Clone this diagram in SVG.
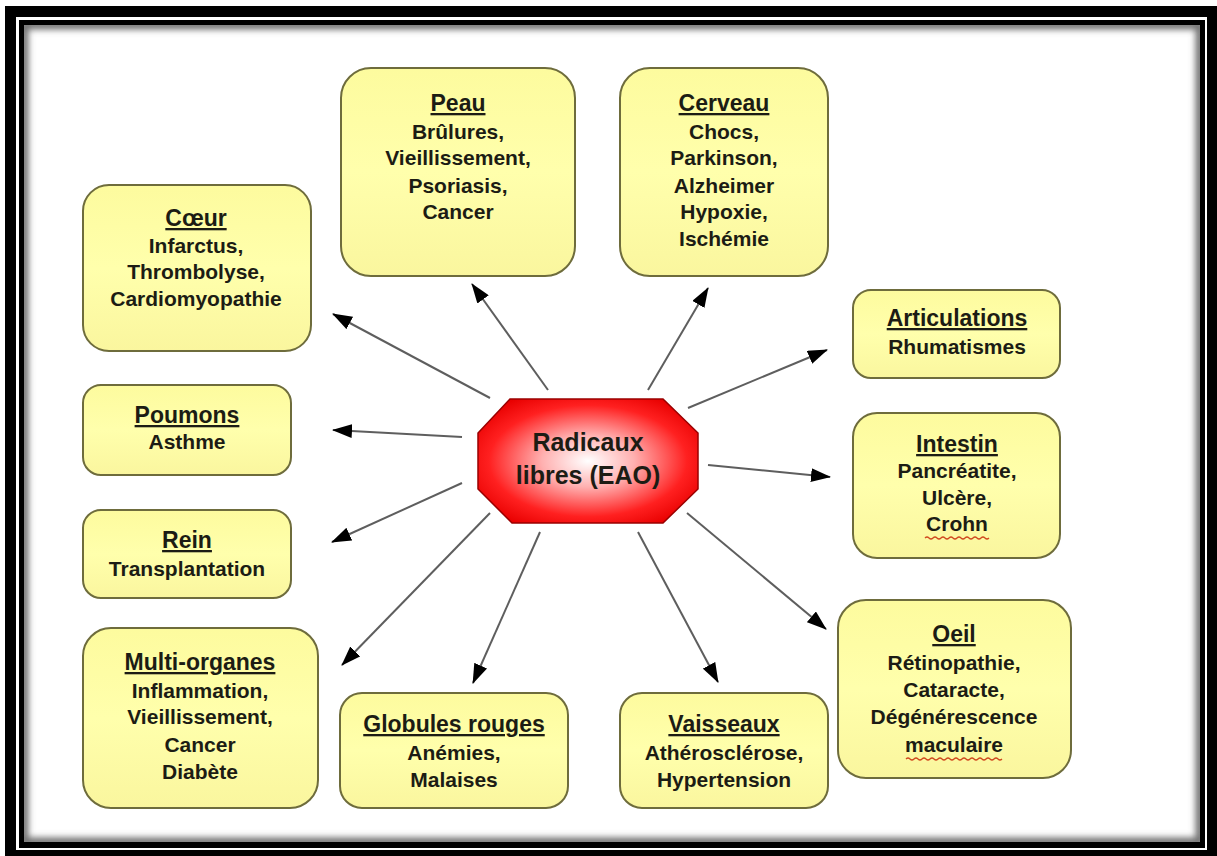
<svg xmlns="http://www.w3.org/2000/svg" width="1217" height="856" viewBox="0 0 1217 856">
<style>
.box{fill:url(#yg);stroke:#6e6c3c;stroke-width:2}
.t{font-family:"Liberation Sans",Arial,sans-serif;font-weight:bold;fill:#1c1c14;text-anchor:middle}
.h{font-size:23px;text-decoration:underline}
.b{font-size:21px}
.c{stroke:#5e5e5e;stroke-width:2;fill:none;marker-end:url(#ah)}
.sq{stroke:#d04a20;stroke-width:1.2;fill:none}
</style>
<defs>
<linearGradient id="yg" x1="0" y1="0" x2="0" y2="1">
<stop offset="0" stop-color="#fdfb9e"/>
<stop offset="0.5" stop-color="#ffffac"/>
<stop offset="1" stop-color="#faf69e"/>
</linearGradient>
<radialGradient id="rg" cx="0.5" cy="0.5" r="0.6">
<stop offset="0" stop-color="#ffffff"/>
<stop offset="0.35" stop-color="#ffb0b0"/>
<stop offset="0.75" stop-color="#ff2020"/>
<stop offset="1" stop-color="#e80000"/>
</radialGradient>
<marker id="ah" viewBox="0 0 20 14" refX="19" refY="7" markerWidth="20" markerHeight="14" markerUnits="userSpaceOnUse" orient="auto">
<path d="M0,0 L20,7 L0,14 z" fill="#000"/>
</marker>
<clipPath id="inner"><rect x="24" y="25" width="1176" height="817"/></clipPath>
<filter id="bl" x="-0.1" y="-0.1" width="1.2" height="1.2"><feGaussianBlur stdDeviation="3"/></filter>
</defs>

<g id="frame">
<rect x="0" y="0" width="1217" height="856" fill="#fff"/>
<rect x="5" y="6" width="1212" height="850" fill="#000"/>
<rect x="16" y="17" width="1191" height="833" fill="#fff"/>
<rect x="19" y="20" width="1186" height="828" fill="#000"/>
<rect x="24" y="25" width="1176" height="817" fill="#fff"/>
<g clip-path="url(#inner)"><rect x="24" y="25" width="1176" height="817" fill="none" stroke="#707070" stroke-width="9" filter="url(#bl)"/></g>
</g>

<g id="connectors">
<line class="c" x1="490" y1="398" x2="333" y2="314"/>
<line class="c" x1="548" y1="390" x2="472" y2="284"/>
<line class="c" x1="648" y1="390" x2="708" y2="288"/>
<line class="c" x1="688" y1="408" x2="827" y2="350"/>
<line class="c" x1="462" y1="437" x2="333" y2="430"/>
<line class="c" x1="708" y1="465" x2="830" y2="477"/>
<line class="c" x1="462" y1="483" x2="332" y2="542"/>
<line class="c" x1="490" y1="513" x2="342" y2="665"/>
<line class="c" x1="540" y1="532" x2="473" y2="683"/>
<line class="c" x1="638" y1="532" x2="718" y2="682"/>
<line class="c" x1="687" y1="513" x2="826" y2="629"/>
</g>

<g id="center">
<polygon points="510,399 663,399 698,433 698,489 663,523 512,523 478,489 478,433" fill="url(#rg)" stroke="#9a0000" stroke-width="1.5"/>
<text class="t" x="588" y="451" font-size="25" fill="#222">Radicaux</text>
<text class="t" x="588" y="484" font-size="25" fill="#222">libres (EAO)</text>
</g>

<g id="coeur">
<rect class="box" x="83" y="185" width="228" height="166" rx="26"/>
<text class="t h" x="196" y="226">Cœur</text>
<text class="t b" x="196" y="253">Infarctus,</text>
<text class="t b" x="196" y="279">Thrombolyse,</text>
<text class="t b" x="196" y="306">Cardiomyopathie</text>
</g>

<g id="peau">
<rect class="box" x="341" y="68" width="234" height="208" rx="30"/>
<text class="t h" x="458" y="111">Peau</text>
<text class="t b" x="458" y="139">Brûlures,</text>
<text class="t b" x="458" y="165">Vieillissement,</text>
<text class="t b" x="458" y="193">Psoriasis,</text>
<text class="t b" x="458" y="219">Cancer</text>
</g>

<g id="cerveau">
<rect class="box" x="620" y="68" width="208" height="208" rx="30"/>
<text class="t h" x="724" y="111">Cerveau</text>
<text class="t b" x="724" y="139">Chocs,</text>
<text class="t b" x="724" y="165">Parkinson,</text>
<text class="t b" x="724" y="193">Alzheimer</text>
<text class="t b" x="724" y="219">Hypoxie,</text>
<text class="t b" x="724" y="246">Ischémie</text>
</g>

<g id="articulations">
<rect class="box" x="853" y="290" width="207" height="88" rx="18"/>
<text class="t h" x="957" y="326">Articulations</text>
<text class="t b" x="957" y="354">Rhumatismes</text>
</g>

<g id="poumons">
<rect class="box" x="83" y="385" width="208" height="90" rx="18"/>
<text class="t h" x="187" y="423">Poumons</text>
<text class="t b" x="187" y="449">Asthme</text>
</g>

<g id="intestin">
<rect class="box" x="853" y="413" width="207" height="145" rx="24"/>
<text class="t h" x="957" y="452">Intestin</text>
<text class="t b" x="957" y="478">Pancréatite,</text>
<text class="t b" x="957" y="505">Ulcère,</text>
<text class="t b" x="957" y="531">Crohn</text>
<path class="sq" d="M925,538 q2,-2 4,0 t4,0 t4,0 t4,0 t4,0 t4,0 t4,0 t4,0 t4,0 t4,0 t4,0 t4,0 t4,0 t4,0 t4,0 t4,0"/>
</g>

<g id="rein">
<rect class="box" x="83" y="510" width="208" height="88" rx="18"/>
<text class="t h" x="187" y="548">Rein</text>
<text class="t b" x="187" y="576">Transplantation</text>
</g>

<g id="oeil">
<rect class="box" x="838" y="600" width="233" height="178" rx="28"/>
<text class="t h" x="954" y="642">Oeil</text>
<text class="t b" x="954" y="670">Rétinopathie,</text>
<text class="t b" x="954" y="697">Cataracte,</text>
<text class="t b" x="954" y="724">Dégénérescence</text>
<text class="t b" x="954" y="752">maculaire</text>
<path class="sq" d="M906,759 q2,-2 4,0 t4,0 t4,0 t4,0 t4,0 t4,0 t4,0 t4,0 t4,0 t4,0 t4,0 t4,0 t4,0 t4,0 t4,0 t4,0 t4,0 t4,0 t4,0 t4,0 t4,0 t4,0 t4,0 t4,0"/>
</g>

<g id="multi">
<rect class="box" x="83" y="628" width="235" height="180" rx="28"/>
<text class="t h" x="200" y="670">Multi-organes</text>
<text class="t b" x="200" y="698">Inflammation,</text>
<text class="t b" x="200" y="724">Vieillissement,</text>
<text class="t b" x="200" y="752">Cancer</text>
<text class="t b" x="200" y="779">Diabète</text>
</g>

<g id="globules">
<rect class="box" x="340" y="693" width="228" height="115" rx="22"/>
<text class="t h" x="454" y="732">Globules rouges</text>
<text class="t b" x="454" y="760">Anémies,</text>
<text class="t b" x="454" y="787">Malaises</text>
</g>

<g id="vaisseaux">
<rect class="box" x="620" y="693" width="208" height="115" rx="22"/>
<text class="t h" x="724" y="732">Vaisseaux</text>
<text class="t b" x="724" y="760">Athérosclérose,</text>
<text class="t b" x="724" y="787">Hypertension</text>
</g>
</svg>
